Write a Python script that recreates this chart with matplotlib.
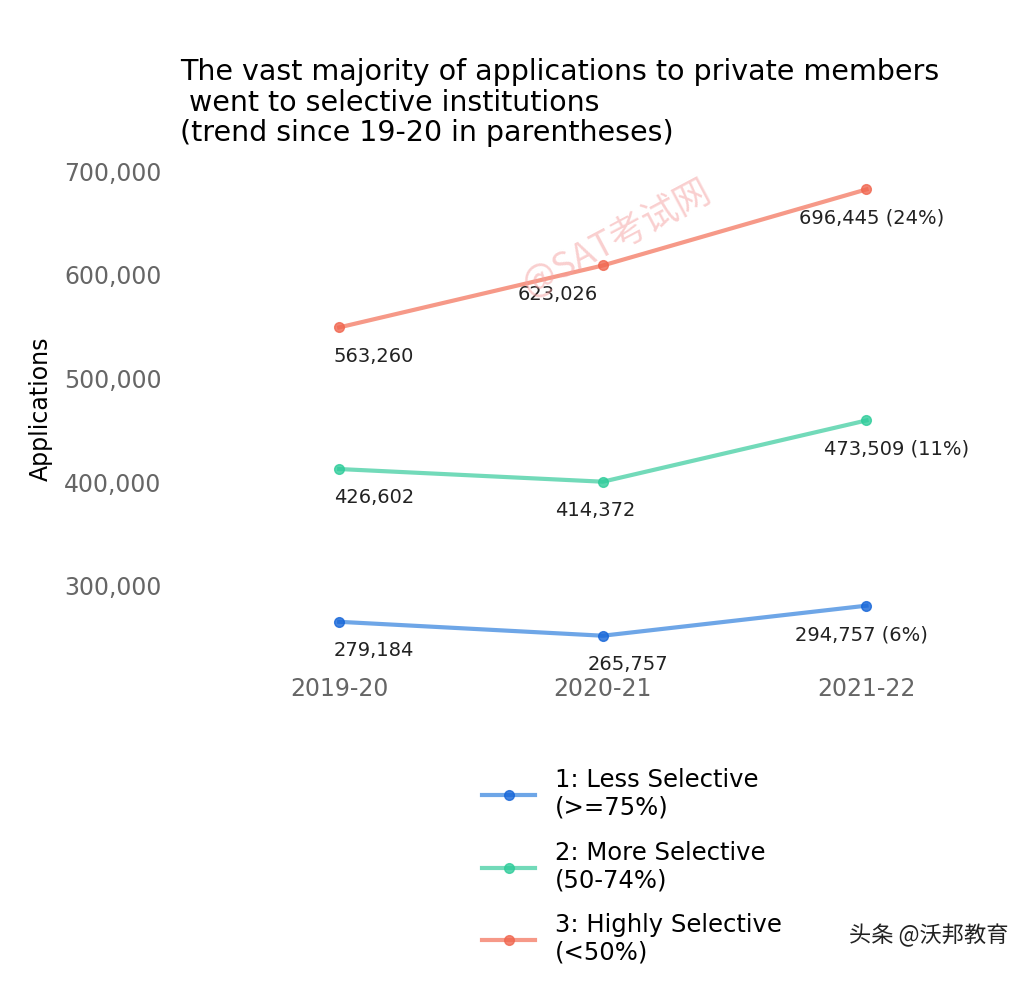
import matplotlib
matplotlib.use("Agg")
import matplotlib.pyplot as plt
from matplotlib import font_manager

years = ["2019-20", "2020-21", "2021-22"]
less_selective = [279184, 265757, 294757]
more_selective = [426602, 414372, 473509]
highly_selective = [563260, 623026, 696445]
trends = ["6%", "11%", "24%"]
series_names = ["1: Less Selective\n(>=75%)", "2: More Selective\n(50-74%)",
                "3: Highly Selective\n(<50%)"]
colors = ["#4a90e2", "#4fd1a8", "#f4806a"]
marker_colors = ["#1565d8", "#2ecc9a", "#f0664f"]

# find an installed regular-weight sans CJK font
cjk = [f for f in font_manager.fontManager.ttflist if "CJK" in f.name]
sans = [f for f in cjk if "Sans" in f.name]
regular = [f for f in sans if f.weight in (400, "normal", "regular")]
pick = regular or sans or cjk
cjk_prop = font_manager.FontProperties(fname=pick[0].fname) if pick else None

# label x-offsets (px) per series/point
label_dx = [[0, 25, -5], [0, -8, 30], [0, -45, 5]]

fig = plt.figure(figsize=(10.34, 9.82), dpi=100)
ax = fig.add_axes([0.175, 0.336, 0.816, 0.496])
x = list(range(len(years)))

for i, (vals, trend) in enumerate(zip([less_selective, more_selective, highly_selective], trends)):
    ax.plot(x, vals, color=colors[i], lw=3, alpha=0.8, marker="o", ms=7,
            mfc=marker_colors[i], mec=marker_colors[i], label=series_names[i])
    for j, v in enumerate(vals):
        txt = f"{v:,}" + (f" ({trend})" if j == len(vals) - 1 else "")
        if j == 0:
            ax.annotate(txt, (j, v), xytext=(-4, -14), textcoords="offset points",
                        ha="left", va="top", fontsize=14, color="#222222")
        else:
            ax.annotate(txt, (j, v), xytext=(label_dx[i][j] * 0.72, -14),
                        textcoords="offset points",
                        ha="center", va="top", fontsize=14, color="#222222")

ax.set_xlim(-0.6, 2.6)
ax.set_ylim(250000, 720000)
ax.set_xticks(x, years)
ax.set_yticks([300000, 400000, 500000, 600000, 700000],
              ["300,000", "400,000", "500,000", "600,000", "700,000"])
ax.tick_params(axis="both", length=0, labelsize=17, labelcolor="#666666")
ax.tick_params(axis="x", pad=18)
ax.tick_params(axis="y", pad=14)
for lbl in ax.get_yticklabels():
    lbl.set_va("bottom")
ax.set_ylabel("Applications", fontsize=17, labelpad=8)
for s in ax.spines.values():
    s.set_visible(False)

fig.text(0.174, 0.85, "The vast majority of applications to private members\n went to selective institutions\n(trend since 19-20 in parentheses)",
         fontsize=20.5, ha="left", va="bottom", linespacing=1.12)

ax.text(1.05, 650000, "@SAT考试网", fontsize=26, color="#f4a0a0", alpha=0.5,
        rotation=28, ha="center", va="center", fontproperties=cjk_prop)
t = fig.text(0.975, 0.035, "头条 @沃邦教育", ha="right", va="bottom",
             fontproperties=cjk_prop, color="#222222")
t.set_fontsize(16)

fig.legend(loc="upper left", bbox_to_anchor=(0.445, 0.24), frameon=False,
           fontsize=17.5, handlelength=2.2, labelspacing=0.85)

fig.savefig("out.png", dpi=100)
